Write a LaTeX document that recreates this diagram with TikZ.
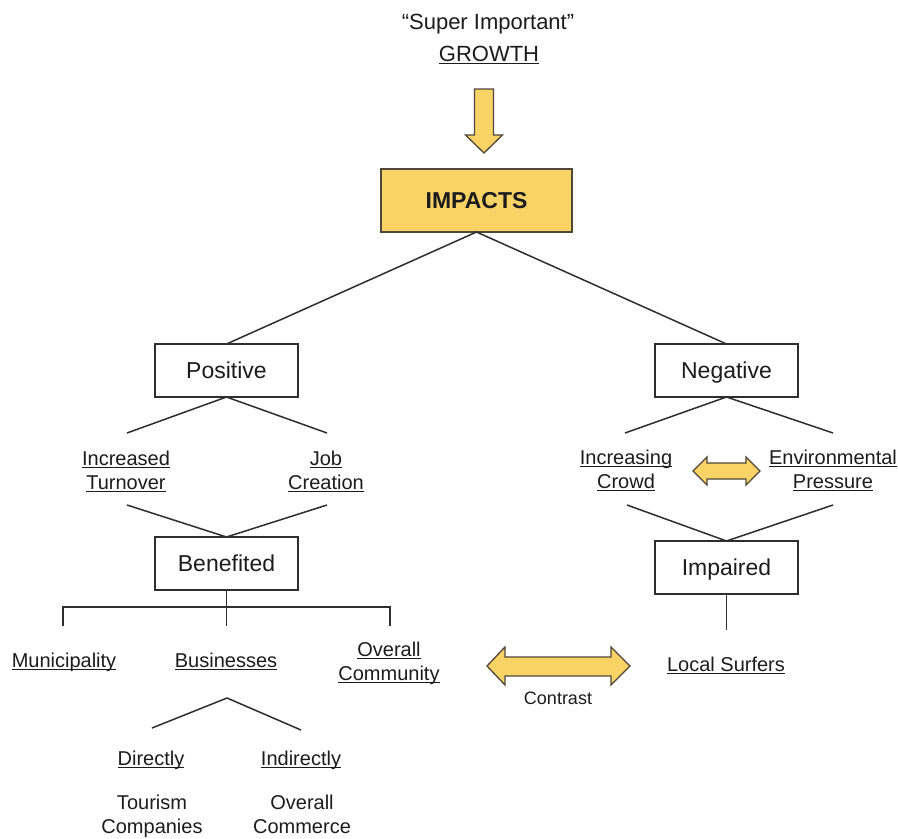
\documentclass[tikz,border=0pt]{standalone}
\usepackage{fontspec}
\setmainfont{Liberation Sans}
\definecolor{ink}{HTML}{1C1C1C}
\definecolor{edge}{HTML}{2E2E2E}
\definecolor{gold}{HTML}{F9D366}
\definecolor{goldline}{HTML}{4F4738}
% underlined word with the rule at a fixed depth below the baseline
\newcommand\ulword[1]{\setbox0\hbox{#1}\rlap{\color{ink}\rule[-3pt]{\wd0}{1.3pt}}\box0}
% two centred lines; the box baseline is the first line's baseline
\newcommand\twolines[2]{\vtop{\halign{\hfil##\hfil\cr#1\cr#2\cr}}}
\begin{document}
\begin{tikzpicture}[x=1pt,y=-1pt,
  lbl/.style={inner sep=0pt, outer sep=0pt, text=ink, anchor=base,
              font=\fontsize{20}{24}\selectfont},
  toplbl/.style={lbl, font=\fontsize{22}{26}\selectfont},
  smalllbl/.style={lbl, font=\fontsize{18}{22}\selectfont},
  wbox/.style={draw=edge, line width=1.5pt, fill=white, inner sep=0pt, outer sep=0pt,
               minimum width=143pt, minimum height=53pt, text=ink,
               text height=16.5pt, text depth=0pt,
               font=\fontsize{23}{27}\selectfont},
  impbox/.style={wbox, fill=gold, draw=goldline, minimum width=191pt, minimum height=63pt,
                 font=\fontsize{23}{27}\selectfont\bfseries},
  link/.style={draw=edge, line width=1.5pt},
  goldarrow/.style={fill=gold, draw=goldline, line width=1.3pt, line join=miter}]

\fill[white] (0,0) rectangle (898,839);
\useasboundingbox (0,0) rectangle (898,839);

% title and growth arrow
\node[toplbl] (sup) at (488,29) {“Super Important”};
\node[toplbl] (growth) at (489,61) {\ulword{GROWTH}};
\draw[goldarrow] (474.5,89) -- (493.5,89) -- (493.5,135) -- (502.5,135) -- (484,153)
  -- (465.5,135) -- (474.5,135) -- cycle;

% boxes
\node[impbox] (impacts) at (476.5,200.5) {IMPACTS};
\node[wbox] (positive) at (226.5,370.5) {Positive};
\node[wbox] (negative) at (726.5,370.5) {Negative};
\node[wbox] (benefited) at (226.5,563.5) {Benefited};
\node[wbox] (impaired) at (726.5,567.5) {Impaired};

% labels
\node[lbl] (inc) at (126,465) {\twolines{\ulword{Increased}}{\ulword{Turnover}}};
\node[lbl] (job) at (326,465) {\twolines{\ulword{Job}}{\ulword{Creation}}};
\node[lbl] (crowd) at (626,464) {\twolines{\ulword{Increasing}}{\ulword{Crowd}}};
\node[lbl] (env) at (833,464) {\twolines{\ulword{Environmental}}{\ulword{Pressure}}};
\node[lbl] (muni) at (64,667) {\ulword{Municipality}};
\node[lbl] (bus) at (226,667) {\ulword{Businesses}};
\node[lbl] (comm) at (389,656) {\twolines{\ulword{Overall}}{\ulword{Community}}};
\node[lbl] (local) at (726,671) {\ulword{Local Surfers}};
\node[smalllbl] (contrast) at (558,704) {Contrast};
\node[lbl] (dir) at (151,765) {\ulword{Directly}};
\node[lbl] (indir) at (301,765) {\ulword{Indirectly}};
\node[lbl] (tour) at (152,809) {\twolines{Tourism}{Companies}};
\node[lbl] (commerce) at (302,809) {\twolines{Overall}{Commerce}};

% free ends of the branch lines
\coordinate (pl) at (127,433);
\coordinate (pr) at (327,433);
\coordinate (bl) at (127,505);
\coordinate (br) at (327,505);
\coordinate (nl) at (625,433);
\coordinate (nr) at (833,433);
\coordinate (il) at (627,505);
\coordinate (ir) at (833,505);
\coordinate (tl) at (63,626);
\coordinate (tm) at (226.5,626);
\coordinate (tr) at (390,626);
\coordinate (ba) at (227,698);
\coordinate (bdl) at (152,728);
\coordinate (bdr) at (301,730);
\coordinate (ls) at (726.5,630);

% connectors
\draw[link] (positive.north) -- (impacts.south) -- (negative.north);
\draw[link] (pl) -- (positive.south) -- (pr);
\draw[link] (bl) -- (benefited.north) -- (br);
\draw[link] (nl) -- (negative.south) -- (nr);
\draw[link] (il) -- (impaired.north) -- (ir);
\draw[link] (benefited.south) -- (tm);
\draw[link] (tl) -- ++(0,-19) -| (tr);
\draw[link] (bdl) -- (ba) -- (bdr);
\draw[link] (impaired.south) -- (ls);

% two-headed arrows
\draw[goldarrow] (693,471) -- (707,457) -- (707,463) -- (746,463) -- (746,457) -- (760,471)
  -- (746,485) -- (746,479) -- (707,479) -- (707,485) -- cycle;
\draw[goldarrow] (487,666) -- (505,647) -- (505,657) -- (611,657) -- (611,647) -- (630,666)
  -- (611,685) -- (611,676) -- (505,676) -- (505,685) -- cycle;
\end{tikzpicture}
\end{document}
